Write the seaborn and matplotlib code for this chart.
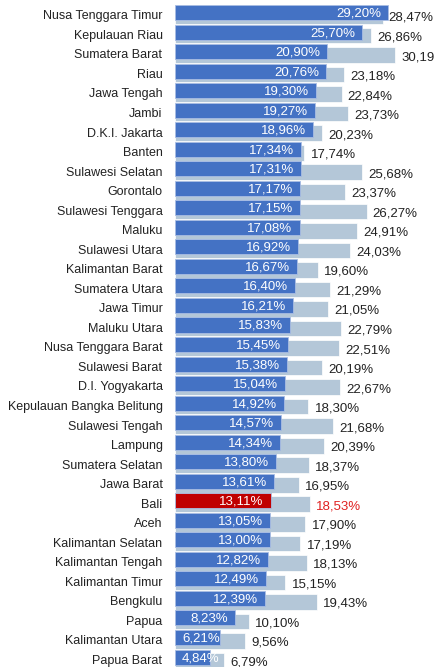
import numpy as np
import pandas as pd
import matplotlib
matplotlib.use("Agg")
import matplotlib.pyplot as plt
import seaborn as sns

provinces = [
    "Nusa Tenggara Timur", "Kepulauan Riau", "Sumatera Barat", "Riau", "Jawa Tengah",
    "Jambi", "D.K.I. Jakarta", "Banten", "Sulawesi Selatan", "Gorontalo",
    "Sulawesi Tenggara", "Maluku", "Sulawesi Utara", "Kalimantan Barat", "Sumatera Utara",
    "Jawa Timur", "Maluku Utara", "Nusa Tenggara Barat", "Sulawesi Barat", "D.I. Yogyakarta",
    "Kepulauan Bangka Belitung", "Sulawesi Tengah", "Lampung", "Sumatera Selatan", "Jawa Barat",
    "Bali", "Aceh", "Kalimantan Selatan", "Kalimantan Tengah", "Kalimantan Timur",
    "Bengkulu", "Papua", "Kalimantan Utara", "Papua Barat",
]
front_values = [
    29.20, 25.70, 20.90, 20.76, 19.30, 19.27, 18.96, 17.34, 17.31, 17.17,
    17.15, 17.08, 16.92, 16.67, 16.40, 16.21, 15.83, 15.45, 15.38, 15.04,
    14.92, 14.57, 14.34, 13.80, 13.61, 13.11, 13.05, 13.00, 12.82, 12.49,
    12.39, 8.23, 6.21, 4.84,
]
back_values = [
    28.47, 26.86, 30.19, 23.18, 22.84, 23.73, 20.23, 17.74, 25.68, 23.37,
    26.27, 24.91, 24.03, 19.60, 21.29, 21.05, 22.79, 22.51, 20.19, 22.67,
    18.30, 21.68, 20.39, 18.37, 16.95, 18.53, 17.90, 17.19, 18.13, 15.15,
    19.43, 10.10, 9.56, 6.79,
]
highlight = "Bali"

BLUE = "#4472C4"
LIGHT = "#B4C7D8"
RED = "#C00000"
RED_TEXT = "#E02020"

df = pd.DataFrame({"prov": provinces, "front": front_values, "back": back_values})
n = len(df)

sns.set_theme(style="white")
plt.rcParams["font.family"] = ["Liberation Sans", "DejaVu Sans"]

fig = plt.figure(figsize=(4.34, 6.67), dpi=100)
ax = fig.add_axes([175 / 434, 0, 1 - 175 / 434, 1])

# back bars (shifted slightly down)
sns.barplot(data=df, x="back", y="prov", order=provinces, color=LIGHT,
            saturation=1, width=0.8, ax=ax, orient="h", edgecolor="white", linewidth=0.5)
shift = 0.18
for p in ax.patches:
    p.set_y(p.get_y() + shift)

# front bars
palette = [RED if p == highlight else BLUE for p in provinces]
sns.barplot(data=df, x="front", y="prov", order=provinces, hue="prov", palette=palette,
            legend=False, saturation=1, width=0.77, ax=ax, orient="h",
            edgecolor="#A9BDE3", linewidth=0.6)

for i, row in df.iterrows():
    # value inside the front bar
    if row["front"] > 7:
        ax.annotate(f"{row['front']:.2f}%".replace(".", ","), (row["front"], i + 0.05),
                    xytext=(-5, 0), textcoords="offset points", ha="right", va="center",
                    color="white", fontsize=9.5)
    else:
        ax.annotate(f"{row['front']:.2f}%".replace(".", ","), (0, i + 0.05),
                    xytext=(5, 0), textcoords="offset points", ha="left", va="center",
                    color="white", fontsize=9.5)
    # value next to the back bar
    ax.annotate(f"{row['back']:.2f}%".replace(".", ","), (row["back"], i + 0.28),
                xytext=(4.5, 0), textcoords="offset points", ha="left", va="center",
                color=RED_TEXT if row["prov"] == highlight else "#222222", fontsize=9.5,
                annotation_clip=False)

ax.set_xlim(0, (434 - 175) / 7.29)
ax.set_ylim(33.51, -0.64)
ax.set_yticks(np.arange(n) + 0.12, provinces)
ax.tick_params(axis="y", length=0, pad=9, labelsize=9, labelcolor="#222222")
ax.set_xticks([])
ax.set_xlabel("")
ax.set_ylabel("")
sns.despine(ax=ax, left=True, bottom=True)

fig.savefig("out.png", dpi=100)
